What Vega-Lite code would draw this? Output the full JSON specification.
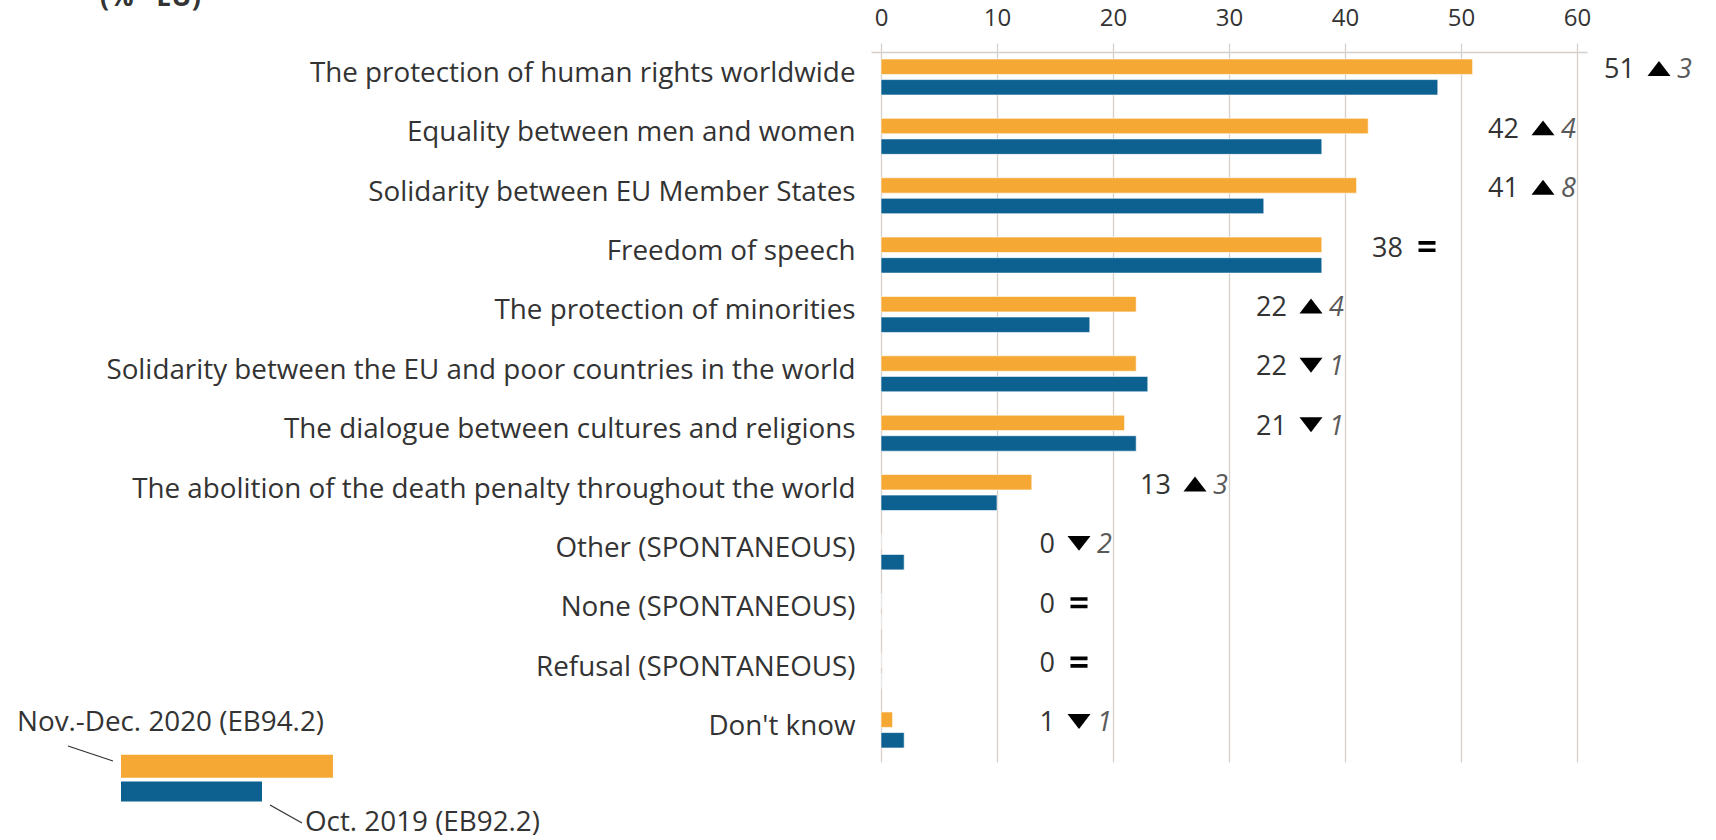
{
  "$schema": "https://vega.github.io/schema/vega-lite/v6.json",
  "width": 716,
  "height": 710,
  "autosize": {"type": "none"},
  "padding": {"left": 871, "top": 52, "right": 129, "bottom": 78},
  "background": "white",
  "config": {"view": {"stroke": null}, "font": "Open Sans"},
  "title": {"text": "(% - EU)", "anchor": "start", "frame": "group", "fontSize": 27, "fontWeight": "bold", "color": "#333333", "dx": -771, "dy": 10},
  "datasets": {
    "bars": [
      {"item": "The protection of human rights worldwide", "survey": "Nov.-Dec. 2020 (EB94.2)", "pct": 51},
      {"item": "The protection of human rights worldwide", "survey": "Oct. 2019 (EB92.2)", "pct": 48},
      {"item": "Equality between men and women", "survey": "Nov.-Dec. 2020 (EB94.2)", "pct": 42},
      {"item": "Equality between men and women", "survey": "Oct. 2019 (EB92.2)", "pct": 38},
      {"item": "Solidarity between EU Member States", "survey": "Nov.-Dec. 2020 (EB94.2)", "pct": 41},
      {"item": "Solidarity between EU Member States", "survey": "Oct. 2019 (EB92.2)", "pct": 33},
      {"item": "Freedom of speech", "survey": "Nov.-Dec. 2020 (EB94.2)", "pct": 38},
      {"item": "Freedom of speech", "survey": "Oct. 2019 (EB92.2)", "pct": 38},
      {"item": "The protection of minorities", "survey": "Nov.-Dec. 2020 (EB94.2)", "pct": 22},
      {"item": "The protection of minorities", "survey": "Oct. 2019 (EB92.2)", "pct": 18},
      {"item": "Solidarity between the EU and poor countries in the world", "survey": "Nov.-Dec. 2020 (EB94.2)", "pct": 22},
      {"item": "Solidarity between the EU and poor countries in the world", "survey": "Oct. 2019 (EB92.2)", "pct": 23},
      {"item": "The dialogue between cultures and religions", "survey": "Nov.-Dec. 2020 (EB94.2)", "pct": 21},
      {"item": "The dialogue between cultures and religions", "survey": "Oct. 2019 (EB92.2)", "pct": 22},
      {"item": "The abolition of the death penalty throughout the world", "survey": "Nov.-Dec. 2020 (EB94.2)", "pct": 13},
      {"item": "The abolition of the death penalty throughout the world", "survey": "Oct. 2019 (EB92.2)", "pct": 10},
      {"item": "Other (SPONTANEOUS)", "survey": "Nov.-Dec. 2020 (EB94.2)", "pct": 0},
      {"item": "Other (SPONTANEOUS)", "survey": "Oct. 2019 (EB92.2)", "pct": 2},
      {"item": "None (SPONTANEOUS)", "survey": "Nov.-Dec. 2020 (EB94.2)", "pct": 0},
      {"item": "None (SPONTANEOUS)", "survey": "Oct. 2019 (EB92.2)", "pct": 0},
      {"item": "Refusal (SPONTANEOUS)", "survey": "Nov.-Dec. 2020 (EB94.2)", "pct": 0},
      {"item": "Refusal (SPONTANEOUS)", "survey": "Oct. 2019 (EB92.2)", "pct": 0},
      {"item": "Don't know", "survey": "Nov.-Dec. 2020 (EB94.2)", "pct": 1},
      {"item": "Don't know", "survey": "Oct. 2019 (EB92.2)", "pct": 2}
    ],
    "labels": [
      {"item": "The protection of human rights worldwide", "v2020": 51, "change": 3, "dir": "up"},
      {"item": "Equality between men and women", "v2020": 42, "change": 4, "dir": "up"},
      {"item": "Solidarity between EU Member States", "v2020": 41, "change": 8, "dir": "up"},
      {"item": "Freedom of speech", "v2020": 38, "change": 0, "dir": "eq"},
      {"item": "The protection of minorities", "v2020": 22, "change": 4, "dir": "up"},
      {"item": "Solidarity between the EU and poor countries in the world", "v2020": 22, "change": 1, "dir": "down"},
      {"item": "The dialogue between cultures and religions", "v2020": 21, "change": 1, "dir": "down"},
      {"item": "The abolition of the death penalty throughout the world", "v2020": 13, "change": 3, "dir": "up"},
      {"item": "Other (SPONTANEOUS)", "v2020": 0, "change": 2, "dir": "down"},
      {"item": "None (SPONTANEOUS)", "v2020": 0, "change": 0, "dir": "eq"},
      {"item": "Refusal (SPONTANEOUS)", "v2020": 0, "change": 0, "dir": "eq"},
      {"item": "Don't know", "v2020": 1, "change": 1, "dir": "down"}
    ]
  },
  "encoding": {
    "y": {
      "field": "item", "type": "nominal",
      "scale": {
        "domain": ["The protection of human rights worldwide", "Equality between men and women", "Solidarity between EU Member States", "Freedom of speech", "The protection of minorities", "Solidarity between the EU and poor countries in the world", "The dialogue between cultures and religions", "The abolition of the death penalty throughout the world", "Other (SPONTANEOUS)", "None (SPONTANEOUS)", "Refusal (SPONTANEOUS)", "Don't know"],
        "paddingInner": 0.3935, "paddingOuter": 0.177, "align": 0.333
      },
      "axis": {"title": null, "domain": false, "ticks": false, "grid": false, "labelFontSize": 27.8, "labelColor": "#333333", "labelPadding": 16, "labelLimit": 0, "labelOffset": -3, "labelFont": "Open Sans"}
    }
  },
  "resolve": {"scale": {"color": "independent"}, "legend": {"color": "independent"}},
  "layer": [
    {
      "data": {"name": "bars"},
      "transform": [{"filter": "datum.survey === 'Nov.-Dec. 2020 (EB94.2)'"}],
      "mark": {"type": "bar", "stroke": "white", "strokeWidth": 0.6},
      "encoding": {
        "yOffset": {
          "field": "survey", "type": "nominal",
          "scale": {"domain": ["Nov.-Dec. 2020 (EB94.2)", "Oct. 2019 (EB92.2)"], "paddingInner": 0.25, "paddingOuter": 0}
        },
        "x": {
          "field": "pct", "type": "quantitative",
          "scale": {"domain": [0, 60], "nice": false, "padding": 10},
          "axis": {"orient": "top", "title": null, "values": [0, 10, 20, 30, 40, 50, 60], "grid": true, "gridColor": "#d6cfca", "gridWidth": 1.3, "domainColor": "#d6cfca", "domainWidth": 1.5, "tickColor": "#d6cfca", "tickWidth": 1.3, "tickSize": 9, "labelFontSize": 24, "labelColor": "#333333", "labelPadding": 13, "labelFont": "Open Sans"}
        },
        "color": {
          "field": "survey", "type": "nominal",
          "scale": {"domain": ["Nov.-Dec. 2020 (EB94.2)"], "range": ["#F5A834"]},
          "legend": {
            "type": "symbol", "orient": "none", "legendX": -854, "legendY": 657, "direction": "vertical", "padding": 0,
            "title": "Nov.-Dec. 2020 (EB94.2)", "titleOrient": "top", "titleAnchor": "start", "titleFontSize": 27.8, "titleFontWeight": "normal", "titleColor": "#333333", "titleFont": "Open Sans", "titlePadding": 18, "titleLimit": 0,
            "symbolType": "M-1,-1H17.43V1H-1Z", "symbolSize": 529, "symbolOffset": 104, "symbolStrokeWidth": 0,
            "labelExpr": "''", "labelFontSize": 1, "labelOpacity": 0
          }
        }
      }
    },
    {
      "data": {"name": "bars"},
      "transform": [{"filter": "datum.survey === 'Oct. 2019 (EB92.2)'"}],
      "mark": {"type": "bar", "stroke": "white", "strokeWidth": 0.6},
      "encoding": {
        "yOffset": {
          "field": "survey", "type": "nominal",
          "scale": {"domain": ["Nov.-Dec. 2020 (EB94.2)", "Oct. 2019 (EB92.2)"], "paddingInner": 0.25, "paddingOuter": 0}
        },
        "x": {
          "field": "pct", "type": "quantitative",
          "scale": {"domain": [0, 60], "nice": false, "padding": 10},
          "axis": {"orient": "top", "title": null, "values": [0, 10, 20, 30, 40, 50, 60], "grid": true, "gridColor": "#d6cfca", "gridWidth": 1.3, "domainColor": "#d6cfca", "domainWidth": 1.5, "tickColor": "#d6cfca", "tickWidth": 1.3, "tickSize": 9, "labelFontSize": 24, "labelColor": "#333333", "labelPadding": 13, "labelFont": "Open Sans"}
        },
        "color": {
          "field": "survey", "type": "nominal",
          "scale": {"domain": ["Oct. 2019 (EB92.2)"], "range": ["#0D6191"]},
          "legend": {
            "type": "symbol", "orient": "none", "legendX": -566, "legendY": 728, "direction": "vertical", "padding": 0,
            "title": "Oct. 2019 (EB92.2)", "titleOrient": "bottom", "titleAnchor": "start", "titleFontSize": 27.8, "titleFontWeight": "normal", "titleColor": "#333333", "titleFont": "Open Sans", "titlePadding": 7, "titleLimit": 0,
            "symbolType": "M-1,-0.87H11.26V0.87H-1Z", "symbolSize": 529, "symbolOffset": -184, "symbolStrokeWidth": 0,
            "labelExpr": "''", "labelFontSize": 1, "labelOpacity": 0
          }
        }
      }
    },
    {
      "data": {"name": "bars"},
      "transform": [{"filter": "false"}],
      "mark": {"type": "rule", "strokeWidth": 1.3},
      "encoding": {
        "color": {
          "field": "survey", "type": "nominal",
          "scale": {"domain": ["Nov.-Dec. 2020 (EB94.2)"], "range": ["#333333"]},
          "legend": {
            "type": "symbol", "orient": "none", "legendX": -732, "legendY": 682, "direction": "vertical", "padding": 0, "title": null,
            "symbolType": "M-2.44,-0.78L-1.54,-0.48M1.6,0.4L2.24,0.76", "symbolSize": 10000, "symbolStrokeWidth": 1.3, "symbolStrokeColor": "#333333",
            "labelExpr": "''", "labelFontSize": 1, "labelOpacity": 0
          }
        }
      }
    },
    {
      "data": {"name": "labels"},
      "transform": [{"bin": {"step": 10, "extent": [0, 70]}, "field": "v2020", "as": ["lb0", "lb1"]}],
      "mark": {"type": "text", "align": "right", "baseline": "middle", "dx": 58, "dy": -6.5, "fontSize": 27, "color": "#333333", "font": "Open Sans"},
      "encoding": {
        "x": {"field": "lb1", "type": "quantitative"},
        "text": {"field": "v2020", "type": "quantitative"}
      }
    },
    {
      "data": {"name": "labels"},
      "transform": [{"bin": {"step": 10, "extent": [0, 70]}, "field": "v2020", "as": ["lb0", "lb1"]}],
      "mark": {"type": "point", "filled": true, "color": "black", "size": 529, "opacity": 1, "strokeWidth": 0},
      "encoding": {
        "x": {"field": "lb1", "type": "quantitative"},
        "xOffset": {"value": 82},
        "yOffset": {"value": 9.5},
        "shape": {
          "field": "dir", "type": "nominal",
          "scale": {"domain": ["up", "down", "eq"], "range": ["M-1,0.65L1,0.65L0,-0.65Z", "M-1,-0.65L1,-0.65L0,0.65Z", "M-0.74,-0.48H0.74V-0.17H-0.74Z M-0.74,0.17H0.74V0.48H-0.74Z"]},
          "legend": null
        }
      }
    },
    {
      "data": {"name": "labels"},
      "transform": [
        {"bin": {"step": 10, "extent": [0, 70]}, "field": "v2020", "as": ["lb0", "lb1"]},
        {"filter": "datum.dir !== 'eq'"}
      ],
      "mark": {"type": "text", "align": "left", "baseline": "middle", "dx": 100, "dy": -6.5, "fontSize": 27, "fontStyle": "italic", "color": "#5a5a5a", "font": "Open Sans"},
      "encoding": {
        "x": {"field": "lb1", "type": "quantitative"},
        "text": {"field": "change", "type": "quantitative"}
      }
    }
  ]
}
